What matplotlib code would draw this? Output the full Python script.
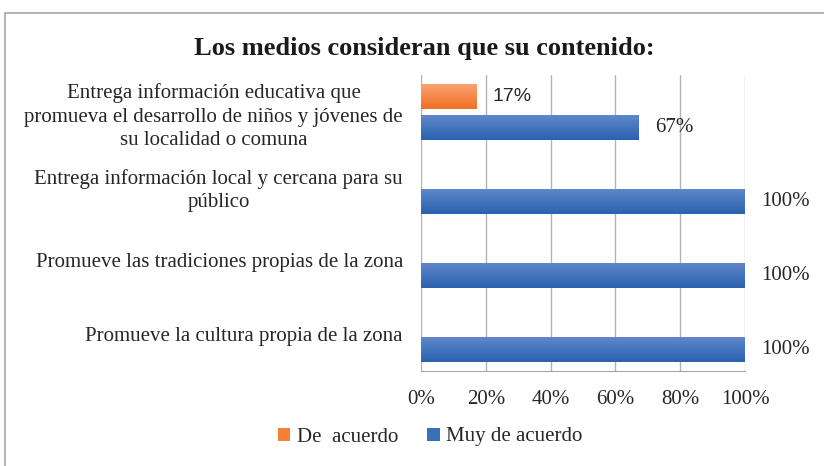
import numpy as np
import matplotlib.pyplot as plt
from matplotlib.colors import LinearSegmentedColormap
from matplotlib.patches import Rectangle

# Data
categorias = [
    "Entrega información educativa que\npromueva el desarrollo de niños y jóvenes de\nsu localidad o comuna",
    "Entrega información local y cercana para su\npúblico",
    "Promueve las tradiciones propias de la zona",
    "Promueve la cultura propia de la zona",
]
de_acuerdo = [17, 0, 0, 0]
muy_de_acuerdo = [67, 100, 100, 100]
series = ["De  acuerdo", "Muy de acuerdo"]

plt.rcParams['font.family'] = ['Liberation Serif', 'DejaVu Serif']

fig = plt.figure(figsize=(8.24, 4.66), dpi=100)
ax = fig.add_axes([421 / 824, 1 - 371 / 466, 324 / 824, 296 / 466])

# chart frame
fig.patches.append(Rectangle((5 / 824, -0.1), 1.1, 1 - 13 / 466 + 0.1,
                             transform=fig.transFigure, fill=False,
                             edgecolor='#a6a6a6', linewidth=1.2))

y = np.arange(len(categorias))
h = 0.33
off = 0.21

orange = LinearSegmentedColormap.from_list('o', ['#f9a370', '#f06f22'])
blue = LinearSegmentedColormap.from_list('b', ['#5e88ca', '#2a62b0'])

bars_o = ax.barh(y - off, de_acuerdo, height=h, color='#f47f35', label=series[0], zorder=2)
bars_b = ax.barh(y + off, muy_de_acuerdo, height=h, color='#3a6fba', label=series[1], zorder=2)

# vertical gradient on each bar (light on top, darker below)
grad = np.linspace(0, 1, 64).reshape(-1, 1)
for bars, cmap in [(bars_o, orange), (bars_b, blue)]:
    for b in bars:
        if b.get_width() <= 0:
            continue
        x0, y0 = b.get_x(), b.get_y()
        im = ax.imshow(grad, extent=[x0, x0 + b.get_width(), y0 + b.get_height(), y0],
                       aspect='auto', cmap=cmap, zorder=3, origin='upper')
        im.set_clip_path(b)

# data labels
for b, v in zip(bars_o, de_acuerdo):
    if v > 0:
        ax.annotate(f"{v}%", (b.get_width(), b.get_y() + b.get_height() / 2),
                    xytext=(12, 0), textcoords='offset points', va='center',
                    fontsize=14, family=['Liberation Sans', 'DejaVu Sans'], color='#262626')
for b, v in zip(bars_b, muy_de_acuerdo):
    ax.annotate(f"{v}%", (b.get_width(), b.get_y() + b.get_height() / 2),
                xytext=(12, 0), textcoords='offset points', va='center',
                fontsize=15, color='#262626', annotation_clip=False)

ax.set_xlim(0, 100)
ax.set_ylim(len(categorias) - 0.5, -0.5)
ax.set_xticks(range(0, 101, 20))
ax.set_xticklabels([f"{t}%" for t in range(0, 101, 20)], fontsize=15, color='#262626')
ax.set_yticks(y)
ax.set_yticklabels(categorias, fontsize=15, color='#262626', multialignment='center',
                   linespacing=1.3)
ax.tick_params(axis='both', length=0)
ax.tick_params(axis='x', pad=14)
ax.tick_params(axis='y', pad=13)
ax.grid(axis='x', color='#b3b3b3', linewidth=1.0, zorder=0)
ax.set_axisbelow(True)
for s in ['top', 'right', 'left']:
    ax.spines[s].set_visible(False)
ax.spines['bottom'].set_color('#a6a6a6')

fig.text(424 / 824, 1 - 48 / 466, "Los medios consideran que su contenido:",
         ha='center', va='center', fontsize=19, fontweight='bold', color='#1a1a1a')

fig.legend(handles=[bars_o, bars_b], labels=series, loc='center',
           bbox_to_anchor=(430 / 824, 1 - 437 / 466), ncol=2, frameon=False,
           fontsize=15, handlelength=0.6, handleheight=0.6, handletextpad=0.3,
           columnspacing=1.4, labelcolor='#262626')

fig.savefig("out.png", dpi=100)
